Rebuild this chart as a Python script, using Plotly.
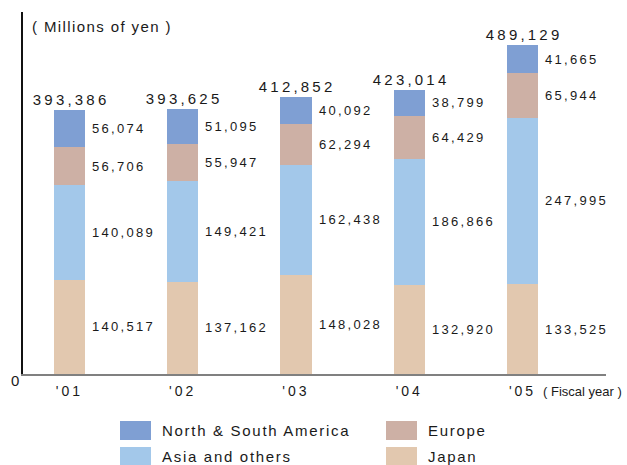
import json
import plotly.graph_objects as go

# Net sales by region, fiscal years 2001-2005 (millions of yen)
years = ["'01", "'02", "'03", "'04", "'05"]
japan = [140517, 137162, 148028, 132920, 133525]
asia = [140089, 149421, 162438, 186866, 247995]
europe = [56706, 55947, 62294, 64429, 65944]
americas = [56074, 51095, 40092, 38799, 41665]
totals = [393386, 393625, 412852, 423014, 489129]

# stacking order bottom -> top
series = [
    ("Japan", japan, "#E2C8AF"),
    ("Asia and others", asia, "#A3C8EA"),
    ("Europe", europe, "#CDB0A5"),
    ("North & South America", americas, "#7F9FD3"),
]

FONT = "Liberation Sans, Arial, sans-serif"
INK = "#1a1a1a"
BAR_W = 0.274
x = list(range(len(years)))

fig = go.Figure()
for name, vals, col in series:
    fig.add_trace(go.Bar(
        x=x, y=vals, name=name, width=BAR_W,
        marker=dict(color=col, line=dict(width=0)),
        showlegend=False, hoverinfo="skip",
    ))

annotations = []
spacing = []

def add_ann(sp, **kw):
    annotations.append(kw)
    spacing.append(sp)

# segment value labels, to the right of each bar
base = [0] * len(years)
for name, vals, col in series:
    for i, v in enumerate(vals):
        add_ann(2.3, x=i + BAR_W / 2, y=base[i] + v / 2, xref="x", yref="y",
                text=f"{v:,}", showarrow=False, xanchor="left", align="left",
                yanchor="middle", xshift=5, font=dict(size=13, color=INK, family=FONT))
        base[i] += v

# totals above each bar
for i, t in enumerate(totals):
    add_ann(3.2, x=i, y=t, xref="x", yref="y", text=f"{t:,}", showarrow=False,
            xanchor="center", yanchor="bottom", xshift=1.5, yshift=0,
            font=dict(size=15, color=INK, family=FONT))

# plot geometry in pixels, used to place the outer texts and legend
L, T, W, H = 23, 12, 583, 362
def px(xp):
    return (xp - L) / W
def py(yp):
    return (T + H - yp) / H

add_ann(1.4, x=px(30), y=py(26), xref="paper", yref="paper",
        text="( Millions of yen )", showarrow=False, xanchor="left", align="left",
        yanchor="middle", font=dict(size=15, color=INK, family=FONT))
add_ann(0, x=px(541), y=py(391), xref="paper", yref="paper",
        text="( Fiscal year )", showarrow=False, xanchor="left", align="left",
        yanchor="middle", font=dict(size=13, color=INK, family=FONT))
add_ann(0, x=0, y=0, xref="paper", yref="y", text="0", showarrow=False,
        xanchor="right", align="right", yanchor="middle", xshift=-2, yshift=-6,
        font=dict(size=15, color=INK, family=FONT))

# legend: 2 x 2 grid of swatches and labels
legend_items = [
    ("North & South America", "#7F9FD3", 120, 421),
    ("Europe", "#CDB0A5", 386, 421),
    ("Asia and others", "#A3C8EA", 120, 447),
    ("Japan", "#E2C8AF", 386, 447),
]
shapes = []
for label, col, lx, ly in legend_items:
    shapes.append(dict(type="rect", xref="paper", yref="paper",
                       x0=px(lx), x1=px(lx + 31), y0=py(ly), y1=py(ly + 19),
                       fillcolor=col, line=dict(width=0), layer="above"))
    add_ann(1.7, x=px(lx + 40), y=py(ly + 9.5), xref="paper", yref="paper",
            text=label, showarrow=False, xanchor="left", align="left",
            yanchor="middle", font=dict(size=15, color=INK, family=FONT))

fig.update_layout(
    width=627, height=465, autosize=False,
    margin=dict(l=L, r=627 - L - W, t=T, b=465 - T - H, pad=0),
    barmode="stack", bargap=0,
    plot_bgcolor="white", paper_bgcolor="white",
    font=dict(family=FONT, color=INK),
    annotations=annotations, shapes=shapes,
    xaxis=dict(range=[-0.41, 4.737], tickvals=x, ticktext=years,
               showline=True, linecolor="#808080", linewidth=2,
               ticks="", showgrid=False, zeroline=False, fixedrange=True,
               tickfont=dict(size=14, color=INK, family=FONT),
               ticklabelstandoff=3),
    yaxis=dict(range=[0, 538700], showline=True, linecolor="#111111",
               linewidth=1.5, showticklabels=False, ticks="",
               showgrid=False, zeroline=False, fixedrange=True),
)

post = """
var gd = document.getElementById('{plot_id}');
var sp = %s;
function track(){
  gd.querySelectorAll('g.annotation').forEach(function(g){
    var i = +g.getAttribute('data-index');
    var t = g.querySelector('text.annotation-text');
    if (t && sp[i]) t.style.letterSpacing = sp[i] + 'px';
  });
  gd.querySelectorAll('g.xtick text').forEach(function(t){
    t.style.letterSpacing = '3px';
  });
}
track();
gd.on('plotly_afterplot', track);
""" % json.dumps(spacing)

fig.write_html("out.html", post_script=post, config={"displayModeBar": False})
